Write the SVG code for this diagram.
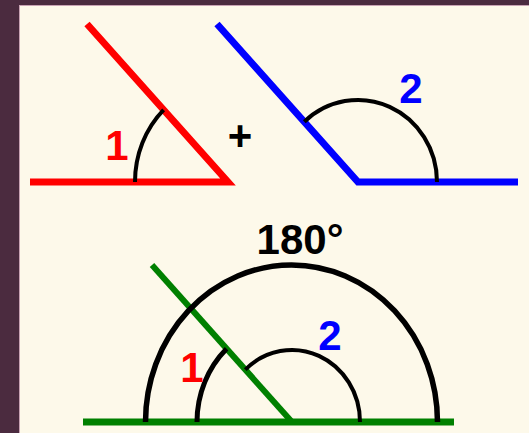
<svg xmlns="http://www.w3.org/2000/svg" width="529" height="433" viewBox="0 0 529 433">
  <style>
    .lbl { font-family: "Liberation Sans", Arial, sans-serif; font-weight: bold; font-size: 42px; text-anchor: middle; }
    .arc { fill: none; stroke: #000; stroke-linecap: butt; }
    .ray { fill: none; stroke-linejoin: miter; stroke-linecap: butt; }
  </style>
  <rect x="0" y="0" width="529" height="433" fill="#4b2b3f"/>
  <rect x="19" y="5" width="510" height="428" fill="#c9a3b4"/>
  <rect x="20" y="6" width="509" height="427" fill="#fdf9ea"/>

  <g id="angle1">
    <polyline class="ray" points="87,24 228,182 30,182" stroke="#ff0000" stroke-width="7"/>
    <path class="arc" d="M 135 182 A 93 100 0 0 1 163.6 109.8" stroke-width="4"/>
    <text class="lbl" x="117" y="160" fill="#ff0000">1</text>
  </g>

  <g id="plus">
    <text class="lbl" x="240" y="150" font-size="36" fill="#000">+</text>
  </g>

  <g id="angle2">
    <polyline class="ray" points="217,24 358,182 518,182" stroke="#0000ff" stroke-width="7"/>
    <path class="arc" d="M 304.3 121.8 A 79 82 0 0 1 437 182" stroke-width="4"/>
    <text class="lbl" x="411" y="103" fill="#0000ff">2</text>
  </g>

  <g id="sum">
    <g id="connectors">
      <line x1="83" y1="422" x2="454" y2="422" stroke="#008000" stroke-width="7"/>
      <line x1="152" y1="265" x2="292" y2="422" stroke="#008000" stroke-width="6"/>
    </g>
    <path class="arc" d="M 145.5 422 A 146 157 0 0 1 437.5 422" stroke-width="5.5"/>
    <path class="arc" d="M 197 422 A 95 101 0 0 1 226.6 348.7" stroke-width="5"/>
    <path class="arc" d="M 245.3 369.6 A 68 72 0 0 1 360 422" stroke-width="4"/>
    <text class="lbl" x="300" y="254" fill="#000">180°</text>
    <text class="lbl" x="192" y="382" fill="#ff0000">1</text>
    <text class="lbl" x="330" y="350" fill="#0000ff">2</text>
  </g>
</svg>
